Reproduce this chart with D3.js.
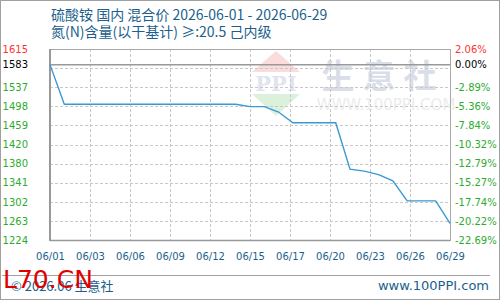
<!DOCTYPE html>
<html>
<head>
<meta charset="utf-8">
<script src="https://cdn.jsdelivr.net/npm/d3@7"></script>
<style>
  body { margin: 0; background: #fff; }
  svg { display: block; }
</style>
</head>
<body>
<div id="chart"></div>
<script>
// data
const titleText = '硫酸铵 国内 混合价 2026-06-01 - 2026-06-29'
const subTitle = '氮(N)含量(以干基计) ≥:20.5 己内级'
const days = [
  '2026-06-01', '2026-06-02', '2026-06-03', '2026-06-04', '2026-06-05', '2026-06-06',
  '2026-06-07', '2026-06-08', '2026-06-09', '2026-06-10', '2026-06-11', '2026-06-12',
  '2026-06-13', '2026-06-14', '2026-06-15', '2026-06-16', '2026-06-17', '2026-06-18',
  '2026-06-19', '2026-06-20', '2026-06-21', '2026-06-22', '2026-06-23', '2026-06-24',
  '2026-06-25', '2026-06-26', '2026-06-27', '2026-06-28', '2026-06-29'
]
const prices = [
  1583, 1502, 1502, 1502, 1502, 1502, 1502, 1502, 1502, 1502, 1502, 1502, 1502, 1502,
  1497, 1497, 1486, 1464, 1464, 1464, 1464, 1369, 1365, 1358, 1345, 1304, 1304, 1304, 1258
]
const yExtent = [1224, 1615]
const basePrice = 1583
const pctLabels = ['-22.69%', '-20.22%', '-17.74%', '-15.27%', '-12.79%', '-10.32%',
  '-7.84%', '-5.36%', '-2.89%', '', '2.06%']

const W = 500, H = 300
const m = { top: 49, left: 50, right: 50, bottom: 60 }
const iw = W - m.left - m.right
const ih = H - m.top - m.bottom
const parse = d3.timeParse('%Y-%m-%d')
const data = days.map((d, i) => ({ date: parse(d), v: prices[i] }))

const svg = d3.select('#chart').append('svg').attr('width', W).attr('height', H)
svg.append('rect').attr('x', 0.5).attr('y', 0.5).attr('width', W - 1).attr('height', H - 1)
  .attr('fill', '#fff').attr('stroke', '#a0a0a0')

const x = d3.scaleTime().domain(d3.extent(data, d => d.date)).range([m.left, m.left + iw])
const y = d3.scaleLinear().domain(yExtent).range([m.top + ih, m.top])

const step = (yExtent[1] - yExtent[0]) / 10
const yTicks = d3.range(11).map(i => yExtent[0] + i * step)
const t0 = x.domain()[0].getTime(), t1 = x.domain()[1].getTime()
const xTicks = d3.range(11).map(i => new Date(t0 + (i * (t1 - t0)) / 10))

// watermark
const wm = svg.append('g')
wm.append('path').attr('d', 'M276,51 L252,72 L300,72 Z').attr('fill', '#fadcdc')
wm.append('text').attr('x', 276).attr('y', 91).attr('text-anchor', 'middle')
  .style('font', 'bold 21px "DejaVu Serif", serif').attr('fill', '#dfe4ef').text('PPI')
wm.append('path').attr('d', 'M252,94 L300,94 L276,116 Z').attr('fill', '#dcf1dc')
wm.append('text').attr('x', 383).attr('y', 88).attr('text-anchor', 'middle')
  .style('font', 'bold 33px "Noto Sans CJK SC"').attr('letter-spacing', 8)
  .attr('fill', '#d9dee8').text('生意社')
wm.append('text').attr('x', 386).attr('y', 110).attr('text-anchor', 'middle')
  .style('font', '15px "DejaVu Sans"').attr('fill', '#ececec').text('WWW.100PPI.COM')

// grid
const grid = svg.append('g').attr('stroke', '#c8c8c8').attr('stroke-dasharray', '3,2')
grid.selectAll('line.h').data(yTicks.slice(1, -1)).join('line')
  .attr('x1', m.left).attr('x2', m.left + iw)
  .attr('y1', d => Math.round(y(d)) + 0.5).attr('y2', d => Math.round(y(d)) + 0.5)
grid.selectAll('line.v').data(xTicks.slice(1, -1)).join('line')
  .attr('y1', m.top).attr('y2', m.top + ih)
  .attr('x1', d => Math.round(x(d)) + 0.5).attr('x2', d => Math.round(x(d)) + 0.5)

// frame and base line
svg.append('rect').attr('x', m.left + 0.5).attr('y', m.top + 0.5).attr('width', iw).attr('height', ih)
  .attr('fill', 'none').attr('stroke', '#a8a8a8')
svg.append('line').attr('x1', m.left).attr('x2', m.left).attr('y1', m.top).attr('y2', m.top + ih + 1)
  .attr('stroke', '#999').attr('stroke-width', 2)
svg.append('line').attr('x1', m.left).attr('x2', m.left + iw)
  .attr('y1', m.top + ih + 0.5).attr('y2', m.top + ih + 0.5).attr('stroke', '#999').attr('stroke-width', 1.5)
svg.append('line').attr('x1', m.left).attr('x2', m.left + iw)
  .attr('y1', y(basePrice)).attr('y2', y(basePrice)).attr('stroke', '#999').attr('stroke-width', 1.5)

// price line
svg.append('path').datum(data)
  .attr('fill', 'none').attr('stroke', '#3b98d6').attr('stroke-width', 1.4)
  .attr('d', d3.line().x(d => x(d.date)).y(d => y(d.v)))

// axes
const tickColor = (v, i) => (i === 10 ? '#ff3333' : v === basePrice ? '#000' : '#2eab2e')
const leftVals = yTicks.filter((d, i) => i !== 9).concat([basePrice])

const yl = svg.append('g').attr('transform', `translate(${m.left},0)`)
  .call(d3.axisLeft(y).tickValues(leftVals).tickSize(0).tickPadding(22)
    .tickFormat(d => Math.round(d)))
yl.select('.domain').remove()
yl.selectAll('text').style('font', '10px "DejaVu Sans"')
  .attr('fill', d => (d === yTicks[10] ? '#ff3333' : d === basePrice ? '#000' : '#2eab2e'))

const rightVals = yTicks.filter((d, i) => i !== 9).concat([basePrice])
const yr = svg.append('g').attr('transform', `translate(${m.left + iw},0)`)
  .call(d3.axisRight(y).tickValues(rightVals).tickSize(0).tickPadding(5)
    .tickFormat(d => {
      if (d === basePrice) return '0.00%'
      return pctLabels[yTicks.indexOf(d)]
    }))
yr.select('.domain').remove()
yr.selectAll('text').style('font', '10px "DejaVu Sans"')
  .attr('fill', d => (d === yTicks[10] ? '#ff3333' : d === basePrice ? '#000' : '#2eab2e'))

const xa = svg.append('g').attr('transform', `translate(0,${m.top + ih})`)
  .call(d3.axisBottom(x).tickValues(xTicks).tickSize(0).tickPadding(13)
    .tickFormat(d3.timeFormat('%m/%d')))
xa.select('.domain').remove()
xa.selectAll('text').style('font', '10px "DejaVu Sans"').attr('fill', '#1c5f8c')

// titles
svg.append('text').attr('x', 51).attr('y', 20).style('font', '14px "Noto Sans CJK SC"')
  .attr('fill', '#1c5f8c').text(titleText)
svg.append('text').attr('x', 51).attr('y', 37).style('font', '14px "Noto Sans CJK SC"')
  .attr('fill', '#1c5f8c').text(subTitle)

// footer
svg.append('line').attr('x1', 2).attr('x2', 490).attr('y1', 275.5).attr('y2', 275.5).attr('stroke', '#a0a0a0')
svg.append('text').attr('x', 11).attr('y', 291).style('font', '13px "Noto Sans CJK SC"')
  .attr('fill', '#1c5f8c').text('© 2026.06 生意社')
svg.append('text').attr('x', 489).attr('y', 290).attr('text-anchor', 'end')
  .style('font', '13px "DejaVu Sans"').attr('fill', '#1c5f8c').text('www.100PPI.com')
svg.append('text').attr('x', 3).attr('y', 288).style('font', '25px "DejaVu Sans"')
  .attr('fill', '#e00000').text('L70.CN')
</script>
</body>
</html>
